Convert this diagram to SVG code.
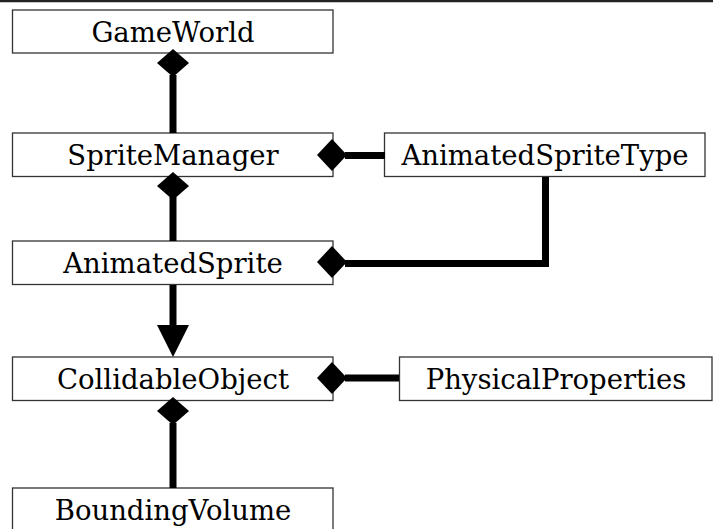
<svg xmlns="http://www.w3.org/2000/svg" width="713" height="529" viewBox="0 0 713 529">
<style>
.box{fill:#fff;stroke:#333;stroke-width:1.3}
.lbl{font-family:"DejaVu Serif","Liberation Serif",serif;font-size:27.5px;fill:#000;text-anchor:middle}
.ln{stroke:#000;stroke-width:7;fill:none}
.hd{fill:#000;stroke:none}
</style>
<rect x="0" y="0" width="713" height="529" fill="#fff"/>
<line x1="0" y1="1" x2="713" y2="1" stroke="#222" stroke-width="2.5"/>
<g id="GameWorld"><rect class="box" x="12.5" y="10" width="320.5" height="43"/><text class="lbl" x="173" y="41.5">GameWorld</text></g>
<g id="SpriteManager"><rect class="box" x="12.5" y="133" width="320.5" height="43.5"/><text class="lbl" x="173" y="165">SpriteManager</text></g>
<g id="AnimatedSpriteType"><rect class="box" x="384.5" y="133" width="320.5" height="43.5"/><text class="lbl" x="545" y="165">AnimatedSpriteType</text></g>
<g id="AnimatedSprite"><rect class="box" x="12.5" y="241" width="320.5" height="43.5"/><text class="lbl" x="173" y="273">AnimatedSprite</text></g>
<g id="CollidableObject"><rect class="box" x="12.5" y="357" width="320.5" height="43.5"/><text class="lbl" x="173" y="389">CollidableObject</text></g>
<g id="PhysicalProperties"><rect class="box" x="399.5" y="357" width="312.5" height="43.5"/><text class="lbl" x="556" y="389">PhysicalProperties</text></g>
<g id="BoundingVolume"><rect class="box" x="12.5" y="488" width="320.5" height="50"/><text class="lbl" x="173" y="520">BoundingVolume</text></g>
<g id="connectors">
<line class="ln" x1="173" y1="75" x2="173" y2="133"/>
<line class="ln" x1="345" y1="155.5" x2="385" y2="155.5"/>
<line class="ln" x1="173" y1="197" x2="173" y2="241"/>
<polyline class="ln" points="545.5,177 545.5,263.5 345,263.5" style="stroke-linejoin:miter"/>
<line class="ln" x1="173" y1="285" x2="173" y2="327"/>
<line class="ln" x1="345" y1="378" x2="399" y2="378"/>
<line class="ln" x1="173" y1="423" x2="173" y2="488"/>
<polygon class="hd" points="173,49 189,63 173,77 157,63"/>
<polygon class="hd" points="317,155 332,139 347,155 332,171"/>
<polygon class="hd" points="173,172 189,186 173,200 157,186"/>
<polygon class="hd" points="317,262 332,246 347,262 332,278"/>
<polygon class="hd" points="157,325 189,325 173,357"/>
<polygon class="hd" points="317,378 332,362 347,378 332,394"/>
<polygon class="hd" points="173,397 189,411 173,425 157,411"/>
</g>
</svg>
